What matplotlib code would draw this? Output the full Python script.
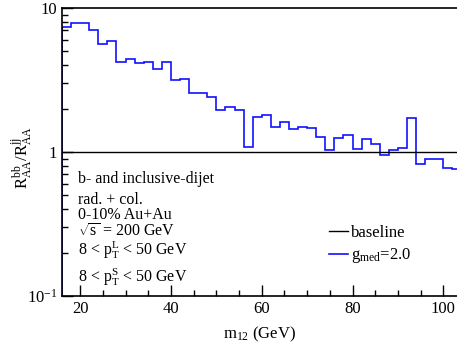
import numpy as np
import matplotlib
matplotlib.use("Agg")
import matplotlib.pyplot as plt
from matplotlib.ticker import FixedLocator, LogLocator, NullFormatter, FixedFormatter

plt.rcParams['font.family'] = ['Liberation Serif', 'DejaVu Serif']
plt.rcParams['mathtext.fontset'] = 'custom'
plt.rcParams['mathtext.rm'] = 'Liberation Serif'
plt.rcParams['mathtext.it'] = 'Liberation Serif:italic'

# bin edges (GeV) and ratio values
edges = np.arange(16, 106, 2)
ratio = [7.41, 7.83, 7.83, 7.07, 5.60, 5.93, 4.20, 4.45, 4.17, 4.20,
         3.75, 4.24, 3.15, 3.20, 2.57, 2.57, 2.42, 1.97, 2.06, 1.95,
         1.09, 1.76, 1.82, 1.48, 1.62, 1.44, 1.49, 1.46, 1.28, 1.04,
         1.26, 1.32, 1.05, 1.24, 1.14, 0.96, 1.04, 1.06, 1.71, 0.83,
         0.89, 0.89, 0.77, 0.76]
baseline = 1.0

xticks = [20, 40, 60, 80, 100]
yticks = [0.1, 1, 10]
ytick_labels = [r'$10^{-1}$', '1', '10']

fig = plt.figure(figsize=(4.57, 3.48), dpi=100)
ax = fig.add_axes([62/457, 52/348, 395/457, 288/348])

ax.axhline(baseline, color='black', lw=1.0, label='baseline')
ax.stairs(ratio, edges, color='#1010ff', lw=1.2, label=r'g$_{\mathrm{med}}$=2.0')

ax.set_yscale('log')
ax.set_xlim(16, 103)
ax.set_ylim(0.1, 10)

ax.xaxis.set_major_locator(FixedLocator(xticks))
ax.xaxis.set_minor_locator(FixedLocator(np.arange(15, 105, 5)))
ax.yaxis.set_major_locator(FixedLocator(yticks))
ax.yaxis.set_major_formatter(FixedFormatter(ytick_labels))
ax.yaxis.set_minor_locator(LogLocator(base=10, subs=np.arange(2, 10)))
ax.yaxis.set_minor_formatter(NullFormatter())
ax.tick_params(which='both', direction='in', top=False, right=False, labelsize=12)
ax.tick_params(which='major', length=8, width=1)
ax.tick_params(which='minor', length=4, width=1)
for s in ax.spines.values():
    s.set_linewidth(1.2)
ax.spines['right'].set_visible(False)

ax.set_xlabel(r'm$_{12}$ (GeV)', fontsize=12)
ax.xaxis.set_label_coords(0.5, -(325 - 296)/288)
ax.set_ylabel(r'R$_{\mathrm{AA}}^{\mathrm{bb}}$/R$_{\mathrm{AA}}^{\mathrm{jj}}$', fontsize=12)
ax.yaxis.set_label_coords(-(62 - 34)/395, (296 - 157)/288)

lines = ['b- and inclusive-dijet',
         'rad. + col.',
         '0-10% Au+Au',
         r'$\sqrt{\mathrm{s}}$ = 200 GeV',
         r'8 < p$_{\mathrm{T}}^{\mathrm{L}}$ < 50 GeV',
         r'8 < p$_{\mathrm{T}}^{\mathrm{S}}$ < 50 GeV']
ys = [179, 200, 215, 232, 250, 277]
for t, yp in zip(lines, ys):
    fig.text(78/457, 1 - yp/348, t, fontsize=11.5, va='center', ha='left')

ax.legend(loc='center left', bbox_to_anchor=(259/395, 1 - (245 - 8)/288),
          frameon=False, fontsize=12, handlelength=1.1, handletextpad=0.2,
          labelspacing=0.35, borderpad=0)

fig.savefig('out.png', dpi=100)
